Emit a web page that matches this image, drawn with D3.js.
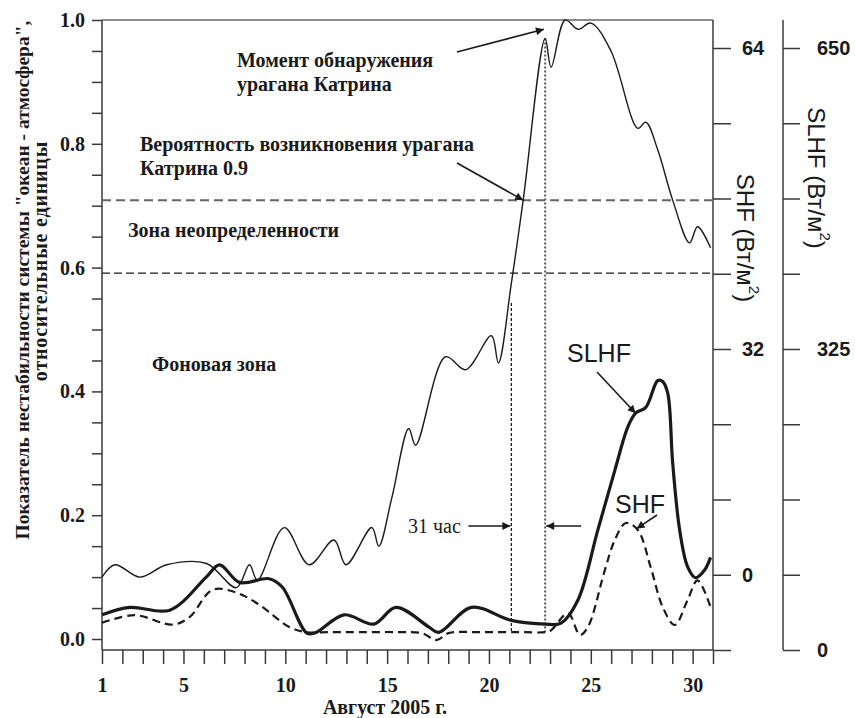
<!DOCTYPE html>
<html>
<head>
<meta charset="utf-8">
<script src="https://cdn.jsdelivr.net/npm/d3@7"></script>
<style>
  body { margin: 0; background: #fff; }
  .serif { font-family: "Liberation Serif", "Times New Roman", serif; font-weight: bold; }
  .sans { font-family: "Liberation Sans", Arial, sans-serif; }
</style>
</head>
<body>
<svg id="chart" width="855" height="718"></svg>
<script>
// instability index of the "ocean - atmosphere" system (left axis)
const indexDays = [1.0, 1.64, 2.86, 4.18, 6.13, 7.60, 8.24, 8.63, 9.95, 11.17, 12.39, 12.98, 14.25, 14.59,
  15.23, 16.06, 16.40, 17.87, 18.85, 20.12, 20.46, 21.10, 21.68, 22.76, 23.05, 23.74, 24.37, 25.01,
  25.99, 27.31, 27.70, 28.29, 29.02, 29.85, 30.24, 30.88];
const indexValues = [0.10, 0.12, 0.10, 0.12, 0.122, 0.083, 0.12, 0.095, 0.18, 0.12, 0.16, 0.12, 0.18, 0.15,
  0.228, 0.34, 0.313, 0.456, 0.435, 0.49, 0.446, 0.575, 0.709, 0.97, 0.924, 1.0, 0.985, 0.995,
  0.95, 0.825, 0.835, 0.79, 0.709, 0.64, 0.666, 0.632];

// SLHF, W/m2 (far right axis)
const slhfDays = [1.0, 2.37, 4.33, 6.13, 6.77, 7.75, 9.21, 9.85, 11.07, 11.51, 12.88, 14.35, 15.43, 17.04,
  17.53, 19.14, 21.10, 22.76, 23.54, 24.37, 25.35, 26.18, 26.82, 27.21, 27.70, 28.29, 28.53, 28.78,
  29.02, 29.36, 29.75, 30.14, 30.58, 30.88];
const slhfValues = [38, 46, 43, 79, 92, 73, 77, 68, 18, 19, 38, 28, 46, 25,
  19, 46, 32, 28, 29, 54, 130, 194, 241, 256, 262, 291, 290, 277,
  202, 130, 90, 78, 86, 100];

// SHF, W/m2 (inner right axis)
const shfDays = [1.0, 2.61, 4.47, 5.30, 6.43, 7.60, 8.73, 10.19, 11.02, 12.15, 13.62, 15.57, 16.70, 17.43,
  18.02, 19.48, 21.44, 22.76, 23.05, 23.88, 24.47, 24.86, 25.69, 26.18, 26.72, 27.31, 27.94, 28.53,
  29.12, 29.75, 30.24, 30.88];
const shfValues = [2.9, 3.7, 2.7, 3.5, 6.4, 6.1, 4.8, 2.45, 1.9, 1.9, 1.9, 1.9, 1.8, 1.06,
  1.8, 1.9, 1.9, 1.9, 2.1, 3.9, 1.6, 2.45, 8.5, 11.7, 13.5, 12.76, 8.8, 4.57,
  2.66, 5.3, 7.4, 4.57];

const dayTickLabels = [1, 5, 10, 15, 20, 25, 30];
const indexTickLabels = [0, 0.2, 0.4, 0.6, 0.8, 1.0];
const shfTickValues = [64, 56, 48, 40, 32, 24, 16, 8, 0];
const shfTickLabels = ["64", "", "", "", "32", "", "", "0", ""];
const slhfTickValues = [650, 568.75, 487.5, 406.25, 325, 243.75, 162.5, 81.25, 0];
const slhfTickLabels = ["650", "", "", "", "325", "", "", "", "0"];

const zoneLevels = [0.709, 0.591];       // upper / lower bound of the uncertainty zone
const markerDays = [21.10, 22.76];       // threshold crossing, detection moment

const svg = d3.select('#chart');
const ink = '#1a1a1a';
const axisInk = '#3a3a3a';

const x = d3.scaleLinear().domain([1, 31]).range([102, 713]);
const yIndex = d3.scaleLinear().domain([0, 1]).range([639, 20]);
const yShf = d3.scaleLinear().domain([0, 64]).range([650, 48]);
const ySlhf = d3.scaleLinear().domain([0, 650]).range([650, 48]);
const plotTop = 20, plotBottom = 650;

svg.append('rect').attr('width', 855).attr('height', 718).attr('fill', '#fff');

const defs = svg.append('defs');
defs.append('marker')
  .attr('id', 'arrow')
  .attr('viewBox', '0 0 10 10')
  .attr('refX', 10).attr('refY', 5)
  .attr('markerWidth', 10).attr('markerHeight', 8)
  .attr('markerUnits', 'userSpaceOnUse')
  .attr('orient', 'auto')
  .append('path').attr('d', 'M0,0 L10,5 L0,10 Z').attr('fill', ink);

// frame
svg.append('line').attr('x1', x(1)).attr('x2', x(31)).attr('y1', plotTop).attr('y2', plotTop)
  .attr('stroke', '#666').attr('stroke-width', 1.5);
svg.append('line').attr('x1', x(1)).attr('x2', x(1)).attr('y1', plotTop).attr('y2', plotBottom)
  .attr('stroke', axisInk).attr('stroke-width', 1.5);
svg.append('line').attr('x1', x(31)).attr('x2', x(31)).attr('y1', plotTop).attr('y2', plotBottom)
  .attr('stroke', axisInk).attr('stroke-width', 1.5);
svg.append('line').attr('x1', x(1)).attr('x2', x(31)).attr('y1', plotBottom).attr('y2', plotBottom)
  .attr('stroke', axisInk).attr('stroke-width', 1.5);
svg.append('line').attr('x1', 783).attr('x2', 783).attr('y1', plotTop).attr('y2', plotBottom)
  .attr('stroke', axisInk).attr('stroke-width', 1.5);

// axes
function styleAxis(g) {
  g.select('.domain').remove();
  g.selectAll('.tick line').attr('stroke', axisInk).attr('stroke-width', 1.5);
  g.selectAll('.tick text').attr('fill', ink);
}

svg.append('g')
  .attr('transform', `translate(${x(1)},0)`)
  .attr('class', 'serif')
  .call(d3.axisLeft(yIndex)
    .tickValues(d3.range(0, 21).map(i => i * 0.05))
    .tickSize(10).tickPadding(7)
    .tickFormat(v => indexTickLabels.some(t => Math.abs(t - v) < 1e-6) ? d3.format('.1f')(v) : ''))
  .call(styleAxis)
  .call(g => g.selectAll('text').attr('font-size', 20));

svg.append('g')
  .attr('transform', `translate(0,${plotBottom})`)
  .attr('class', 'serif')
  .call(d3.axisBottom(x)
    .tickValues(d3.range(1, 32))
    .tickSize(14).tickPadding(14)
    .tickFormat(d => dayTickLabels.includes(d) ? d : ''))
  .call(styleAxis)
  .call(g => g.selectAll('text').attr('font-size', 20));

svg.append('g')
  .attr('transform', `translate(${x(31)},0)`)
  .attr('class', 'sans')
  .call(d3.axisRight(yShf)
    .tickValues(shfTickValues)
    .tickSize(18).tickPadding(11)
    .tickFormat((d, i) => shfTickLabels[i]))
  .call(styleAxis)
  .call(g => g.selectAll('text').attr('font-size', 20).attr('font-weight', 'bold'));

svg.append('g')
  .attr('transform', 'translate(783,0)')
  .attr('class', 'sans')
  .call(d3.axisRight(ySlhf)
    .tickValues(slhfTickValues)
    .tickSize(17).tickPadding(17)
    .tickFormat((d, i) => slhfTickLabels[i]))
  .call(styleAxis)
  .call(g => g.selectAll('text').attr('font-size', 20).attr('font-weight', 'bold'));

// zone boundaries
svg.append('line')
  .attr('x1', x(1)).attr('x2', x(31)).attr('y1', yIndex(zoneLevels[0])).attr('y2', yIndex(zoneLevels[0]))
  .attr('stroke', '#666').attr('stroke-width', 2).attr('stroke-dasharray', '9,5');
svg.append('line')
  .attr('x1', x(1)).attr('x2', x(31)).attr('y1', yIndex(zoneLevels[1])).attr('y2', yIndex(zoneLevels[1]))
  .attr('stroke', ink).attr('stroke-width', 1.3).attr('stroke-dasharray', '8,4');

// curves
const curve = d3.curveCatmullRom.alpha(0.5);
const indexPts = indexDays.map((d, i) => [d, indexValues[i]]);
const slhfPts = slhfDays.map((d, i) => [d, slhfValues[i]]);
const shfPts = shfDays.map((d, i) => [d, shfValues[i]]);

const interp = (pts, day) => {
  const i = d3.bisector(p => p[0]).left(pts, day);
  if (i <= 0) return pts[0][1];
  const a = pts[i - 1], b = pts[i];
  return a[1] + (b[1] - a[1]) * (day - a[0]) / (b[0] - a[0]);
};

// vertical markers (threshold crossing and detection moment)
markerDays.forEach((day, i) => {
  svg.append('line')
    .attr('x1', x(day)).attr('x2', x(day))
    .attr('y1', yIndex(interp(indexPts, day)) + (i === 0 ? 20 : 0))
    .attr('y2', yShf(interp(shfPts, day)))
    .attr('stroke', i === 0 ? ink : '#555')
    .attr('stroke-width', i === 0 ? 1.3 : 2)
    .attr('stroke-dasharray', i === 0 ? '3,2' : '2,2');
});

svg.append('path')
  .datum(shfPts)
  .attr('d', d3.line().x(d => x(d[0])).y(d => yShf(d[1])).curve(curve))
  .attr('fill', 'none').attr('stroke', ink).attr('stroke-width', 2.2).attr('stroke-dasharray', '8,5');

svg.append('path')
  .datum(slhfPts)
  .attr('d', d3.line().x(d => x(d[0])).y(d => ySlhf(d[1])).curve(curve))
  .attr('fill', 'none').attr('stroke', ink).attr('stroke-width', 3.2);

svg.append('path')
  .datum(indexPts)
  .attr('d', d3.line().x(d => x(d[0])).y(d => yIndex(d[1])).curve(curve))
  .attr('fill', 'none').attr('stroke', ink).attr('stroke-width', 1.4);

// annotations
function arrow(x1, y1, x2, y2) {
  svg.append('line')
    .attr('x1', x1).attr('y1', y1).attr('x2', x2).attr('y2', y2)
    .attr('stroke', ink).attr('stroke-width', 1.6)
    .attr('marker-end', 'url(#arrow)');
}
function label(txt, tx, ty, size, cls) {
  return svg.append('text')
    .attr('class', cls || 'serif')
    .attr('x', tx).attr('y', ty)
    .attr('font-size', size)
    .attr('fill', ink)
    .text(txt);
}

label('Момент обнаружения', 237, 67, 20);
label('урагана Катрина', 237, 91, 20);
arrow(457, 52, x(22.7), yIndex(0.985));

label('Вероятность возникновения урагана', 140, 151, 20);
label('Катрина 0.9', 140, 175, 20);
arrow(457, 163, x(21.68), yIndex(zoneLevels[0]));

label('Зона неопределенности', 128, 237, 20);
label('Фоновая зона', 152, 371, 20);

label('31 час', 408, 533, 20).style('font-weight', 'normal');
arrow(x(markerDays[0]) - 43, 526, x(markerDays[0]) - 1, 526);
arrow(x(markerDays[1]) + 36, 526, x(markerDays[1]) + 1, 526);

label('SLHF', 567, 362, 25, 'sans');
arrow(597, 372, x(27.2), ySlhf(interp(slhfPts, 27.2)));
label('SHF', 615, 513, 25, 'sans');
arrow(657, 515, x(27.2) + 1, yShf(interp(shfPts, 27.2)));

// axis titles
const supTitle = (tx, ty, name) => {
  const t = svg.append('text')
    .attr('class', 'sans')
    .attr('transform', `translate(${tx},${ty}) rotate(90)`)
    .attr('text-anchor', 'middle')
    .attr('dominant-baseline', 'central')
    .attr('font-size', 24)
    .attr('fill', ink);
  t.append('tspan').text(name + ' (Вт/м');
  t.append('tspan').attr('font-size', 15).attr('dy', -9).text('2');
  t.append('tspan').attr('dy', 9).text(')');
};
supTitle(746, 238, 'SHF');
supTitle(817, 178, 'SLHF');

svg.append('text')
  .attr('class', 'serif')
  .attr('transform', 'translate(29,280) rotate(-90)')
  .attr('text-anchor', 'middle')
  .attr('font-size', 19.5)
  .attr('fill', ink)
  .text('Показатель нестабильности системы "океан - атмосфера",');
svg.append('text')
  .attr('class', 'serif')
  .attr('transform', 'translate(47,261) rotate(-90)')
  .attr('text-anchor', 'middle')
  .attr('font-size', 20)
  .attr('letter-spacing', 0.8)
  .attr('fill', ink)
  .text('относительные единицы');

svg.append('text')
  .attr('class', 'serif')
  .attr('x', 385).attr('y', 714)
  .attr('text-anchor', 'middle')
  .attr('font-size', 20)
  .attr('fill', ink)
  .text('Август 2005 г.');
</script>
</body>
</html>
